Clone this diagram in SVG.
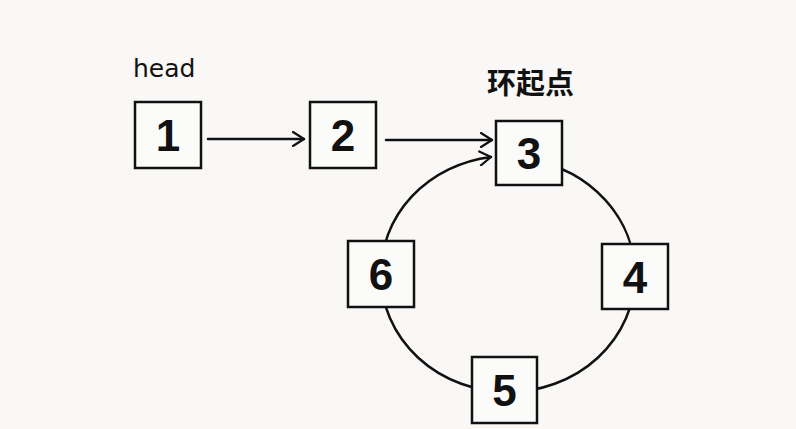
<svg xmlns="http://www.w3.org/2000/svg" width="796" height="429" viewBox="0 0 796 429">
<defs>
<style>
.box{fill:#fbfbfa;stroke:#111;stroke-width:2.5}
.num{font-family:"Liberation Sans","DejaVu Sans",sans-serif;font-size:44px;font-weight:bold;fill:#111;text-anchor:middle}
.edge{fill:none;stroke:#111;stroke-width:2.5;stroke-linecap:round}
.lbl{font-family:"DejaVu Sans","Liberation Sans",sans-serif;fill:#111}
</style>
<marker id="arr" viewBox="0 0 14 16" refX="13" refY="8" markerWidth="14" markerHeight="16" markerUnits="userSpaceOnUse" orient="auto">
<polyline points="2,1 13,8 2,15" fill="none" stroke="#111" stroke-width="2.2" stroke-linecap="round" stroke-linejoin="round"/>
</marker>
</defs>
<rect width="796" height="429" fill="#f9f8f6"/>
<g id="connectors">
<line class="edge" x1="208" y1="139" x2="304" y2="139" marker-end="url(#arr)"/>
<line class="edge" x1="386" y1="140" x2="492" y2="140" marker-end="url(#arr)"/>
<path class="edge" d="M 381,275 A 127 117 0 0 1 491,157" marker-end="url(#arr)"/>
<path class="edge" d="M 530,160 A 127 117 0 0 1 635,275"/>
<path class="edge" d="M 635,275 A 127 117 0 0 1 508,392"/>
<path class="edge" d="M 508,392 A 127 117 0 0 1 381,275"/>
</g>
<g id="label-head"><text class="lbl" x="133" y="77" font-size="25">head</text></g>
<g id="label-start"><text x="487" y="94" font-size="29" font-weight="bold" font-family="'Noto Sans CJK SC',sans-serif" fill="#111">环起点</text></g>
<g id="n1"><rect class="box" x="135" y="102" width="66" height="66"/><text class="num" x="168" y="151">1</text></g>
<g id="n2"><rect class="box" x="310" y="102" width="66" height="66"/><text class="num" x="343" y="151">2</text></g>
<g id="n3"><rect class="box" x="496" y="121" width="66" height="64"/><text class="num" x="529" y="169">3</text></g>
<g id="n4"><rect class="box" x="602" y="244" width="66" height="65"/><text class="num" x="635" y="293">4</text></g>
<g id="n5"><rect class="box" x="472" y="357" width="65" height="66"/><text class="num" x="504.5" y="406">5</text></g>
<g id="n6"><rect class="box" x="348" y="241" width="66" height="66"/><text class="num" x="381" y="290">6</text></g>
</svg>
